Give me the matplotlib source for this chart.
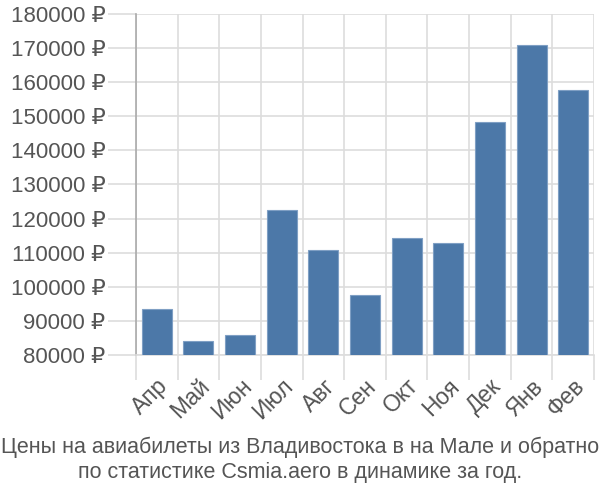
import matplotlib
matplotlib.use("Agg")
import matplotlib.pyplot as plt
from matplotlib.ticker import FixedLocator, NullFormatter

plt.rcParams['font.family'] = ['Liberation Sans', 'DejaVu Sans']

months = ["Апр", "Май", "Июн", "Июл", "Авг", "Сен", "Окт", "Ноя", "Дек", "Янв", "Фев"]
prices = [93400, 84200, 85800, 122500, 110800, 97600, 114300, 112800, 148200, 171000, 157700]
yticks = list(range(80000, 180001, 10000))
title = "Цены на авиабилеты из Владивостока в на Мале и обратно\nпо статистике Csmia.aero в динамике за год."

bar_color = "#4c78a8"
grid_color = "#dddddd"
text_color = "#555555"

fig = plt.figure(figsize=(6, 5), dpi=100)
ax = fig.add_axes([136 / 600, 145 / 500, 458 / 600, 341 / 500])

x = list(range(len(months)))
ax.bar(x, prices, width=0.72, color=bar_color, edgecolor="#7f9fc4", linewidth=0.8, zorder=3)

ax.set_xlim(-0.5, len(months) - 0.5)
ax.set_ylim(80000, 180000)

# grid lines sit on category boundaries
ax.xaxis.set_major_locator(FixedLocator([i - 0.5 for i in range(len(months) + 1)]))
ax.xaxis.set_major_formatter(NullFormatter())
ax.xaxis.set_minor_locator(FixedLocator(x))
ax.set_xticklabels(months, minor=True, rotation=45, ha="right", rotation_mode="anchor",
                   fontsize=16.5, color=text_color)
ax.tick_params(axis="x", which="major", length=18, color=grid_color, width=1.2)
ax.tick_params(axis="x", which="minor", length=0, pad=14)

ax.set_yticks(yticks)
ax.set_yticklabels([f"{v} ₽" for v in yticks], fontsize=16, color=text_color)
ax.tick_params(axis="y", length=20, color=grid_color, width=1.2, pad=2)

ax.grid(True, which="major", color=grid_color, linewidth=1.2, zorder=0)
for s in ["top", "right"]:
    ax.spines[s].set_visible(False)
ax.spines["left"].set_color("#aaaaaa")
ax.spines["left"].set_linewidth(1.2)
ax.spines["bottom"].set_color(grid_color)
ax.spines["bottom"].set_linewidth(1.2)

fig.text(0.5, 0.08, title, ha="center", va="center", fontsize=15.5, color=text_color,
         linespacing=1.25)

fig.savefig("out.png", dpi=100)
